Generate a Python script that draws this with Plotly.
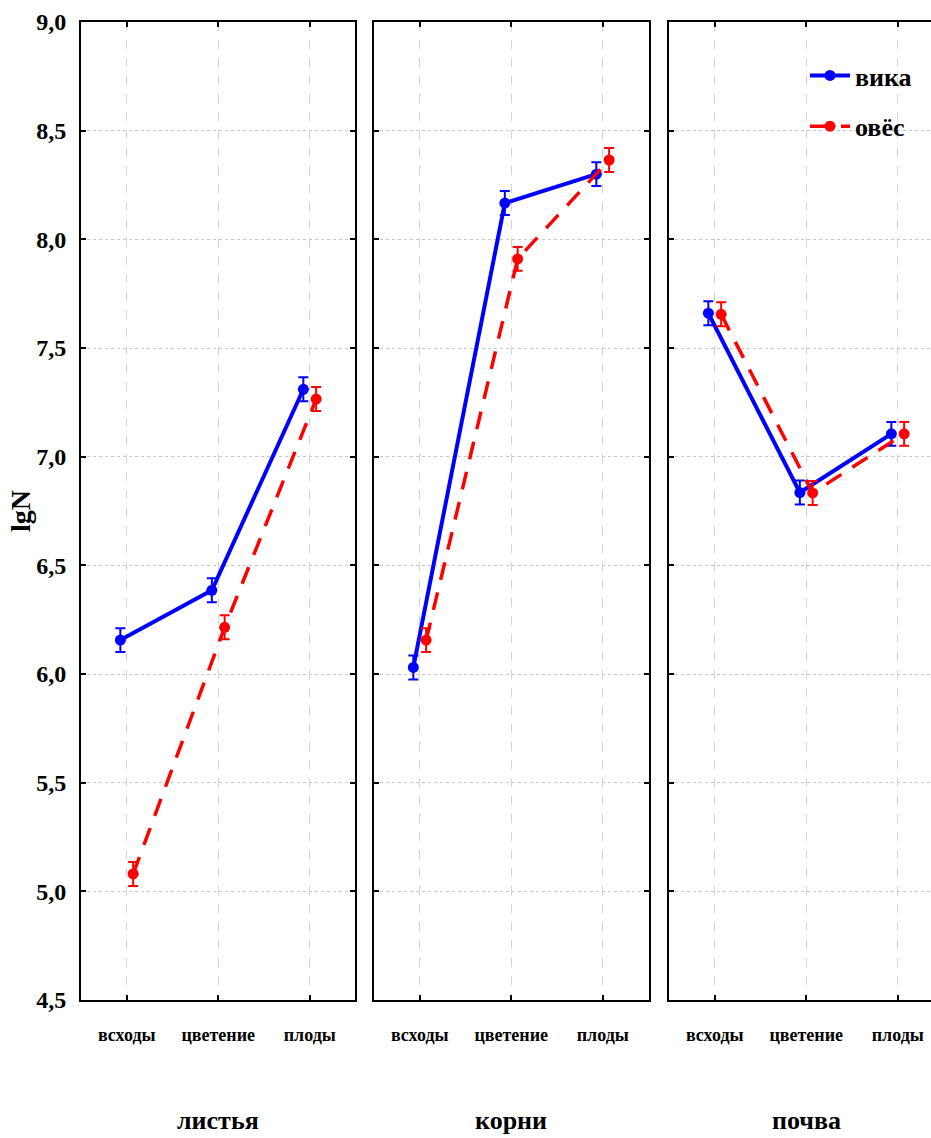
import plotly.graph_objects as go

categories = ["всходы", "цветение", "плоды"]
panels = ["листья", "корни", "почва"]
series_names = ["вика", "овёс"]

vika_leaves = [6.156, 6.385, 7.31]
oves_leaves = [5.08, 6.215, 7.265]
vika_roots = [6.03, 8.167, 8.30]
oves_roots = [6.156, 7.91, 8.365]
vika_soil = [7.66, 6.835, 7.105]
oves_soil = [7.655, 6.833, 7.105]
err_vika = [0.055, 0.055, 0.055]
err_oves = [0.055, 0.055, 0.055]

y_ticks = [4.5, 5.0, 5.5, 6.0, 6.5, 7.0, 7.5, 8.0, 8.5, 9.0]
y_ticktext = ["<b>" + f"{v:.1f}".replace(".", ",") + "</b>" for v in y_ticks]

FONT = "Liberation Serif"
W, H = 931, 1138
ML, MT, MB = 81, 22, 138
PW = W - ML
px_l = [(81, 355), (374, 649), (669, 931)]
unit = 91.5
doms = [((a - ML) / PW, (b - ML) / PW) for a, b in px_l]

fig = go.Figure()
data = [(vika_leaves, oves_leaves), (vika_roots, oves_roots), (vika_soil, oves_soil)]
off = 0.07
for i, (v, o) in enumerate(data):
    xa = "x" if i == 0 else f"x{i+1}"
    ya = "y" if i == 0 else f"y{i+1}"
    fig.add_trace(go.Scatter(
        x=[k - off for k in range(3)], y=v, xaxis=xa, yaxis=ya,
        mode="lines+markers", name=series_names[0], legendgroup="a",
        showlegend=(i == 0),
        line=dict(color="#0000ff", width=4),
        marker=dict(color="#0000ff", size=11),
        error_y=dict(type="data", array=err_vika, color="#0000ff", thickness=2, width=5),
    ))
    fig.add_trace(go.Scatter(
        x=[k + off for k in range(3)], y=o, xaxis=xa, yaxis=ya,
        mode="lines+markers", name=series_names[1], legendgroup="b",
        showlegend=(i == 0),
        line=dict(color="#ff0000", width=3.5, dash="18px,13px"),
        marker=dict(color="#ff0000", size=11),
        error_y=dict(type="data", array=err_oves, color="#ff0000", thickness=2, width=5),
    ))

layout = dict(
    width=W, height=H,
    margin=dict(l=ML, r=0, t=MT, b=MB),
    plot_bgcolor="white", paper_bgcolor="white",
    font=dict(family=FONT, color="black", weight="bold"),
    legend=dict(x=(805 - ML) / PW, y=1 - (52 - MT) / (H - MT - MB), xanchor="left", yanchor="top",
                bgcolor="rgba(0,0,0,0)", font=dict(size=26, family=FONT, weight="bold"),
                tracegroupgap=14, traceorder="grouped", itemwidth=40),
    showlegend=True,
)
for i in range(3):
    xk = "xaxis" if i == 0 else f"xaxis{i+1}"
    yk = "yaxis" if i == 0 else f"yaxis{i+1}"
    width_px = px_l[i][1] - px_l[i][0]
    layout[xk] = dict(
        domain=list(doms[i]), range=[-0.5, -0.5 + width_px / unit],
        tickvals=[0, 1, 2], ticktext=categories,
        showline=True, linecolor="black", linewidth=2, mirror="ticks",
        ticks="inside", ticklen=5, tickwidth=1.5, tickcolor="black",
        showgrid=True, gridcolor="#d4d4d4", griddash="dash", gridwidth=1,
        tickfont=dict(size=18, family=FONT, weight="bold"), ticklabelstandoff=17,
        zeroline=False, anchor="y" if i == 0 else f"y{i+1}",
    )
    layout[yk] = dict(
        domain=[0, 1], range=[4.5, 9.0],
        tickvals=y_ticks, ticktext=y_ticktext,
        showticklabels=(i == 0),
        showline=True, linecolor="black", linewidth=2,
        mirror=("ticks" if i < 2 else False),
        ticks="inside", ticklen=5, tickwidth=2, tickcolor="black",
        showgrid=True, gridcolor="#c8c8c8", griddash="dot", gridwidth=1,
        tickfont=dict(size=24, family=FONT, weight="bold"), ticklabelstandoff=8,
        zeroline=False, anchor="x" if i == 0 else f"x{i+1}",
    )
fig.update_layout(**layout)

ann = []
for i, name in enumerate(panels):
    cx = px_l[i][0] + 137
    ann.append(dict(text="<b>" + name + "</b>", x=(cx - ML) / PW, y=-(1120 - 1000) / (H - MT - MB),
                    xref="paper", yref="paper", showarrow=False, xanchor="center", yanchor="middle",
                    font=dict(size=26, family=FONT, weight="bold")))
ann.append(dict(text="<b>lgN</b>", x=(20 - ML) / PW, y=0.5, xref="paper", yref="paper", textangle=-90,
                showarrow=False, xanchor="center", yanchor="middle",
                font=dict(size=28, family=FONT, weight="bold")))
fig.update_layout(annotations=ann)

fig.write_html("out.html")
